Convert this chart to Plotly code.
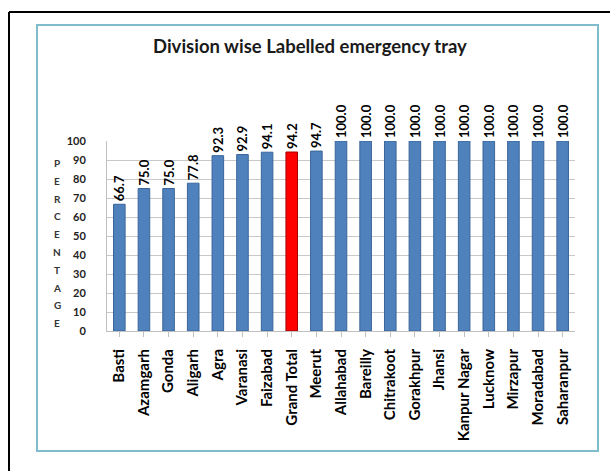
import plotly.graph_objects as go

categories = ["Basti", "Azamgarh", "Gonda", "Aligarh", "Agra", "Varanasi", "Faizabad",
              "Grand Total", "Meerut", "Allahabad", "Bareilly", "Chitrakoot", "Gorakhpur",
              "Jhansi", "Kanpur Nagar", "Lucknow", "Mirzapur", "Moradabad", "Saharanpur"]
values = [66.7, 75.0, 75.0, 77.8, 92.3, 92.9, 94.1, 94.2, 94.7, 100.0, 100.0, 100.0,
          100.0, 100.0, 100.0, 100.0, 100.0, 100.0, 100.0]
y_ticks = [0, 10, 20, 30, 40, 50, 60, 70, 80, 90, 100]
title_text = "Division wise Labelled emergency tray"
axis_letters = list("PERCENTAGE")

W, H = 610, 471
L, R, T, B = 107, 35, 141, 140
PW, PH = W - L - R, H - T - B


def px(x):
    return (x - L) / PW


def py(y):
    return (H - B - y) / PH


colors = ["#ff0000" if c == "Grand Total" else "#4f81bd" for c in categories]
edges = ["#a00000" if c == "Grand Total" else "#3a6599" for c in categories]

fig = go.Figure(go.Bar(
    x=categories, y=values,
    marker=dict(color=colors, line=dict(color=edges, width=1)),
    width=0.47,
    text=[f"<b>{v:.1f}</b>" for v in values],
    textposition="outside", textangle=-90, constraintext="none",
    textfont=dict(family="Lato", size=13, color="#000000"),
    cliponaxis=False,
))

font_fam = "Lato"
shapes = [
    # outer black frame (left & top)
    dict(type="line", xref="paper", yref="paper", x0=px(9), x1=px(9), y0=py(12), y1=py(480),
         line=dict(color="#000000", width=2)),
    dict(type="line", xref="paper", yref="paper", x0=px(9), x1=px(620), y0=py(12), y1=py(12),
         line=dict(color="#000000", width=2)),
    # teal chart frame
    dict(type="rect", xref="paper", yref="paper", x0=px(37), x1=px(598), y0=py(451), y1=py(25),
         line=dict(color="#7fbccc", width=2), layer="below"),
]

annotations = [dict(text=f"<b>{title_text}</b>", xref="paper", yref="paper",
                    x=px(310), y=py(46), showarrow=False, xanchor="center", yanchor="middle",
                    font=dict(family=font_fam, size=18.5, color="#1a1a1a"))]
for i, ch in enumerate(axis_letters):
    annotations.append(dict(text=f"<b>{ch}</b>", xref="paper", yref="paper",
                            x=px(57), y=py(163 + i * 17.8), showarrow=False,
                            xanchor="center", yanchor="middle",
                            font=dict(family=font_fam, size=10, color="#333333")))

fig.update_layout(
    width=W, height=H,
    margin=dict(l=L, r=R, t=T, b=B),
    paper_bgcolor="#ffffff", plot_bgcolor="#ffffff",
    showlegend=False,
    shapes=shapes, annotations=annotations,
    xaxis=dict(tickangle=-90, tickfont=dict(family=font_fam, size=15, color="#000000"),
               showline=True, linecolor="#c0c0c0", ticks="outside", tickcolor="#c0c0c0",
               ticklen=5, ticklabelstandoff=6, showgrid=False, fixedrange=True),
    yaxis=dict(range=[0, 100], tickvals=y_ticks, ticktext=[f"<b>{t}</b>" for t in y_ticks],
               tickfont=dict(family=font_fam, size=11, color="#222222"),
               showgrid=True, gridcolor="#c8c8c8", gridwidth=1,
               showline=True, linecolor="#c0c0c0", ticklabelstandoff=18, zeroline=False),
)
fig.update_xaxes(ticktext=[f"<b>{c}</b>" for c in categories], tickvals=categories)

fig.write_html(
    "out.html",
    config={"displayModeBar": False},
    post_script="document.body.style.margin='0';document.body.style.overflow='hidden';"
                "document.documentElement.style.overflow='hidden';",
)
